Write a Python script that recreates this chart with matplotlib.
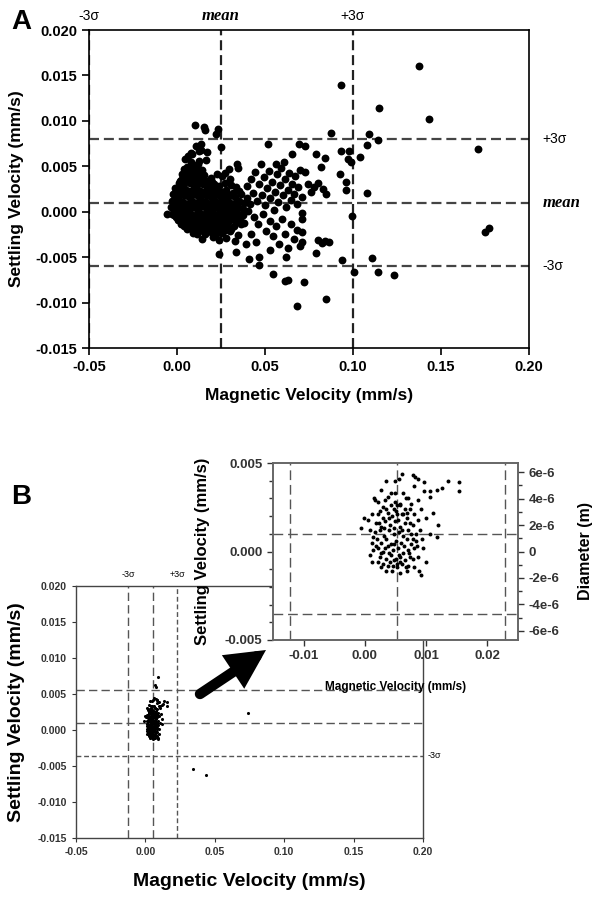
import matplotlib
matplotlib.use('Agg')
import matplotlib.pyplot as plt
from matplotlib.ticker import FormatStrFormatter, MultipleLocator, FixedLocator
from matplotlib.patches import FancyArrowPatch
import numpy as np

plt.rcParams['font.family'] = ['Liberation Sans', 'DejaVu Sans']
plt.rcParams['axes.unicode_minus'] = False

# ---------------- panel A data (magnetic velocity, settling velocity) in mm/s
a_core = [
    (0.0048, 0.0058), (0.0062, 0.0061), (0.0078, 0.0055), (0.0092, 0.0051), (0.0106, 0.0048),
    (0.0121, 0.0053), (0.0056, 0.0049), (0.0141, 0.0046), (0.0072, 0.0046), (0.0040, 0.0047),
    (0.0030, 0.0041), (0.0036, 0.0039), (0.0049, 0.0042), (0.0066, 0.0040), (0.0083, 0.0043),
    (0.0101, 0.0039), (0.0118, 0.0041), (0.0136, 0.0038), (0.0156, 0.0040), (0.0191, 0.0037),
    (0.0226, 0.0042), (0.0256, 0.0039), (0.0302, 0.0036),
    (0.0010, 0.0032), (0.0018, 0.0034), (0.0026, 0.0031), (0.0043, 0.0033), (0.0059, 0.0035),
    (0.0076, 0.0032), (0.0093, 0.0034), (0.0111, 0.0031), (0.0129, 0.0033), (0.0148, 0.0030),
    (0.0166, 0.0034), (0.0186, 0.0029), (0.0211, 0.0031), (0.0241, 0.0028), (0.0271, 0.0032),
    (0.0306, 0.0029), (0.0336, 0.0027),
    (-0.0012, 0.0026), (-0.0004, 0.0024), (0.0019, 0.0027), (0.0046, 0.0025), (0.0071, 0.0023),
    (0.0096, 0.0026), (0.0121, 0.0024), (0.0146, 0.0022), (0.0171, 0.0025), (0.0196, 0.0023),
    (0.0221, 0.0026), (0.0251, 0.0022), (0.0281, 0.0024), (0.0316, 0.0021), (0.0352, 0.0023),
    (-0.0024, 0.0019), (-0.0010, 0.0017), (0.0014, 0.0020), (0.0041, 0.0018), (0.0067, 0.0016),
    (0.0093, 0.0019), (0.0117, 0.0017), (0.0143, 0.0020), (0.0167, 0.0018), (0.0194, 0.0016),
    (0.0219, 0.0019), (0.0245, 0.0017), (0.0273, 0.0015), (0.0301, 0.0018), (0.0331, 0.0016),
    (0.0361, 0.0019), (0.0396, 0.0015),
    (-0.0030, 0.0012), (-0.0016, 0.0010), (0.0009, 0.0013), (0.0034, 0.0011), (0.0061, 0.0009),
    (0.0087, 0.0012), (0.0113, 0.0010), (0.0137, 0.0013), (0.0164, 0.0011), (0.0189, 0.0009),
    (0.0216, 0.0012), (0.0241, 0.0010), (0.0269, 0.0013), (0.0295, 0.0011), (0.0323, 0.0009),
    (0.0351, 0.0012), (0.0381, 0.0010), (0.0412, 0.0008),
    (-0.0033, 0.0005), (-0.0018, 0.0003), (0.0006, 0.0006), (0.0031, 0.0004), (0.0058, 0.0002),
    (0.0084, 0.0005), (0.0111, 0.0003), (0.0135, 0.0006), (0.0163, 0.0004), (0.0187, 0.0002),
    (0.0214, 0.0005), (0.0239, 0.0003), (0.0267, 0.0006), (0.0291, 0.0004), (0.0321, 0.0002),
    (0.0347, 0.0005), (0.0376, 0.0003), (0.0404, 0.0001),
    (-0.0031, -0.0002), (-0.0016, -0.0004), (0.0003, -0.0001), (0.0029, -0.0003), (0.0057, -0.0005),
    (0.0081, -0.0002), (0.0109, -0.0004), (0.0133, -0.0001), (0.0161, -0.0003), (0.0185, -0.0005),
    (0.0213, -0.0002), (0.0237, -0.0004), (0.0265, -0.0001), (0.0289, -0.0003), (0.0319, -0.0005),
    (0.0344, -0.0002), (0.0373, -0.0004),
    (0.0004, -0.0009), (0.0027, -0.0011), (0.0054, -0.0008), (0.0079, -0.0010), (0.0107, -0.0012),
    (0.0131, -0.0009), (0.0157, -0.0011), (0.0184, -0.0008), (0.0209, -0.0010), (0.0235, -0.0012),
    (0.0263, -0.0009), (0.0291, -0.0011), (0.0317, -0.0008), (0.0349, -0.0010), (0.0381, -0.0012),
    (0.0041, -0.0016), (0.0069, -0.0014), (0.0099, -0.0017), (0.0124, -0.0015), (0.0151, -0.0018),
    (0.0177, -0.0016), (0.0204, -0.0014), (0.0233, -0.0017), (0.0259, -0.0015), (0.0289, -0.0018),
    (0.0326, -0.0016), (0.0361, -0.0014),
    (0.0089, -0.0023), (0.0126, -0.0021), (0.0161, -0.0024), (0.0196, -0.0022), (0.0224, -0.0025),
    (0.0258, -0.0023), (0.0301, -0.0021), (0.0344, -0.0026),
    (0.0141, -0.0030), (0.0202, -0.0028), (0.0236, -0.0031), (0.0279, -0.0029), (0.0331, -0.0032),
]

a_core_fill = [
    (0.0005, 0.0022), (0.0030, 0.0022), (0.0058, 0.0020), (0.0083, 0.0022), (0.0108, 0.0021),
    (0.0132, 0.0023), (0.0157, 0.0021), (0.0182, 0.0020), (0.0208, 0.0022), (0.0233, 0.0021),
    (0.0262, 0.0019), (-0.0005, 0.0008), (0.0020, 0.0008), (0.0047, 0.0007), (0.0073, 0.0008),
    (0.0099, 0.0007), (0.0124, 0.0009), (0.0150, 0.0008), (0.0176, 0.0007), (0.0202, 0.0008),
    (0.0228, 0.0007), (0.0255, 0.0009), (0.0282, 0.0008), (0.0309, 0.0007), (0.0336, 0.0008),
    (-0.0008, -0.0006), (0.0016, -0.0006), (0.0043, -0.0007), (0.0069, -0.0006), (0.0095, -0.0008),
    (0.0121, -0.0006), (0.0147, -0.0007), (0.0173, -0.0006), (0.0199, -0.0007), (0.0225, -0.0008),
    (0.0251, -0.0006), (0.0277, -0.0007), (0.0305, -0.0006), (0.0333, -0.0007), (0.0360, -0.0008),
    (0.0055, -0.0019), (0.0085, -0.0019), (0.0113, -0.0020), (0.0139, -0.0019), (0.0165, -0.0020),
    (0.0190, -0.0019), (0.0218, -0.0020), (0.0246, -0.0019), (0.0274, -0.0020), (0.0308, -0.0019),
    (0.0020, 0.0035), (0.0055, 0.0038), (0.0085, 0.0037), (0.0115, 0.0036), (0.0145, 0.0035),
    (0.0175, 0.0032), (0.0200, 0.0033), (0.0060, 0.0044), (0.0085, 0.0047), (0.0100, 0.0044),
    (0.0130, 0.0044),
]

a_spread = [
    (0.0102, 0.0095), (0.0153, 0.0093), (0.0157, 0.0090), (0.0220, 0.0085), (0.0233, 0.0091),
    (0.0250, 0.0071), (0.0106, 0.0072), (0.0125, 0.0067), (0.0136, 0.0068), (0.0125, 0.0056),
    (0.0086, 0.0064), (0.0135, 0.0075), (0.0172, 0.0066), (0.0167, 0.0057), (0.0078, 0.0065),
    (0.0340, 0.0053), (0.0349, 0.0048), (0.0298, 0.0047), (0.0270, 0.0043),
    (0.0515, 0.0075), (0.0560, 0.0052), (0.0608, 0.0055), (0.0655, 0.0064), (0.0693, 0.0074),
    (0.0729, 0.0072), (0.0788, 0.0063),
    (0.0395, 0.0028), (0.0420, 0.0036), (0.0432, 0.0021), (0.0445, 0.0044), (0.0452, 0.0012),
    (0.0468, 0.0030), (0.0475, 0.0052), (0.0483, 0.0018), (0.0495, 0.0038), (0.0502, 0.0007),
    (0.0510, 0.0026), (0.0522, 0.0045), (0.0530, 0.0015), (0.0541, 0.0033), (0.0550, 0.0002),
    (0.0558, 0.0022), (0.0566, 0.0041), (0.0575, 0.0011), (0.0583, 0.0029), (0.0592, 0.0048),
    (0.0600, 0.0018), (0.0611, 0.0036), (0.0619, 0.0005), (0.0628, 0.0024), (0.0636, 0.0043),
    (0.0645, 0.0013), (0.0653, 0.0031), (0.0662, 0.0020), (0.0671, 0.0039), (0.0680, 0.0008),
    (0.0690, 0.0027), (0.0700, 0.0046), (0.0712, 0.0016),
    (0.0727, 0.0044), (0.0745, 0.0030), (0.0780, 0.0027), (0.0800, 0.0032), (0.0830, 0.0025),
    (0.0846, 0.0020), (0.0760, 0.0022), (0.0840, 0.0059), (0.0820, 0.0049),
    (0.0877, 0.0087), (0.0934, 0.0139), (0.0924, 0.0042), (0.0960, 0.0033), (0.0960, 0.0024),
    (0.0930, 0.0067), (0.0980, 0.0067), (0.1040, 0.0060), (0.0970, 0.0058), (0.0990, 0.0055),
    (0.1080, 0.0021), (0.1090, 0.0085), (0.1142, 0.0079), (0.1078, 0.0073), (0.1148, 0.0114),
    # below the mean line
    (-0.0059, -0.0003), (0.0021, -0.0014), (0.0114, -0.0024),
    (0.0436, -0.0006), (0.0461, -0.0014), (0.0488, -0.0003), (0.0505, -0.0021), (0.0527, -0.0010),
    (0.0548, -0.0027), (0.0560, -0.0016), (0.0580, -0.0035), (0.0596, -0.0008), (0.0612, -0.0024),
    (0.0633, -0.0040), (0.0648, -0.0013), (0.0665, -0.0030), (0.0680, -0.0020), (0.0418, -0.0025),
    (0.0448, -0.0033), (0.0530, -0.0042), (0.0620, -0.0050), (0.0700, -0.0038),
    (0.0710, -0.0001), (0.0711, -0.0008), (0.0712, -0.0022), (0.0713, -0.0033),
    (0.0801, -0.0031), (0.0822, -0.0034), (0.0843, -0.0032), (0.0864, -0.0033),
    (0.0239, -0.0047), (0.0334, -0.0044), (0.0390, -0.0036), (0.0410, -0.0052), (0.0466, -0.0050),
    (0.0466, -0.0059), (0.0547, -0.0069), (0.0614, -0.0076), (0.0630, -0.0075), (0.0722, -0.0077),
    (0.0684, -0.0104), (0.0849, -0.0096), (0.0792, -0.0045), (0.0936, -0.0053), (0.1106, -0.0051),
    (0.1003, -0.0066), (0.1142, -0.0066), (0.1233, -0.0070), (0.0996, -0.0005),
]

a_outliers = [(0.1375, 0.0160), (0.1432, 0.0102), (0.1710, 0.0069), (0.1750, -0.0022), (0.1773, -0.0018)]

a_mean = (0.025, 0.001)
a_minus3 = (-0.05, -0.006)
a_plus3 = (0.10, 0.008)

# ---------------- panel B data (same variables), shared by main plot and inset
b_cluster = [
    (0.0060, 0.0044), (0.0078, 0.0043), (0.0082, 0.0042), (0.0086, 0.0041), (0.0035, 0.0040),
    (0.0049, 0.0040), (0.0056, 0.0041), (0.0097, 0.0039), (0.0135, 0.0040), (0.0154, 0.0039),
    (0.0117, 0.0035), (0.0096, 0.0034), (0.0107, 0.0034), (0.0106, 0.0031), (0.0154, 0.0034),
    (0.0043, 0.0033), (0.0049, 0.0033), (0.0015, 0.0030), (0.0016, 0.0029), (0.0022, 0.0028),
    (0.0033, 0.0029), (0.0067, 0.0030), (0.0071, 0.0030), (0.0086, 0.0029), (0.0049, 0.0028),
    (0.0057, 0.0026), (0.0050, 0.0023), (0.0066, 0.0024), (0.0073, 0.0024), (0.0060, 0.0021),
    (0.0073, 0.0016), (0.0087, 0.0018), (-0.0001, 0.0019), (0.0005, 0.0018), (-0.0007, 0.0013),
    (0.0107, 0.0010), (0.0117, 0.0008), (0.0011, 0.0005), (0.0014, 0.0001), (0.0009, -0.0002),
    (0.0011, -0.0006), (0.0027, -0.0009), (0.0041, -0.0006), (0.0046, -0.0008), (0.0052, -0.0007),
    (0.0057, -0.0006), (0.0044, -0.0011), (0.0052, -0.0009), (0.0067, -0.0009), (0.0089, -0.0011),
    (0.0092, -0.0013), (0.0078, -0.0004), (0.0085, 0.0003), (0.0093, 0.0007),
    (0.0021, 0.0021), (0.0029, 0.0019), (0.0037, 0.0022), (0.0045, 0.0020), (0.0054, 0.0018),
    (0.0063, 0.0021), (0.0018, 0.0016), (0.0026, 0.0014), (0.0033, 0.0017), (0.0041, 0.0015),
    (0.0049, 0.0017), (0.0057, 0.0014), (0.0066, 0.0016), (0.0079, 0.0015), (0.0016, 0.0011),
    (0.0024, 0.0012), (0.0031, 0.0009), (0.0039, 0.0012), (0.0047, 0.0010), (0.0055, 0.0011),
    (0.0062, 0.0009), (0.0071, 0.0012), (0.0084, 0.0010), (0.0019, 0.0007), (0.0027, 0.0005),
    (0.0035, 0.0007), (0.0043, 0.0004), (0.0051, 0.0006), (0.0059, 0.0005), (0.0068, 0.0007),
    (0.0076, 0.0004), (0.0022, 0.0002), (0.0030, 0.0000), (0.0038, 0.0003), (0.0046, 0.0001),
    (0.0054, 0.0002), (0.0062, -0.0001), (0.0070, 0.0001), (0.0081, 0.0002), (0.0025, -0.0003),
    (0.0034, -0.0004), (0.0042, -0.0002), (0.0050, -0.0004), (0.0058, -0.0003), (0.0066, -0.0005),
    (0.0074, -0.0003), (0.0029, 0.0025), (0.0042, 0.0026), (0.0058, 0.0027),
    (0.0023, 0.0016), (0.0031, 0.0013), (0.0039, 0.0019), (0.0047, 0.0013), (0.0053, 0.0021),
    (0.0060, 0.0012), (0.0069, 0.0019), (0.0076, 0.0010), (0.0083, 0.0006), (0.0090, 0.0012),
    (0.0018, 0.0003), (0.0026, -0.0001), (0.0033, 0.0002), (0.0040, -0.0001), (0.0048, 0.0004),
    (0.0056, -0.0002), (0.0064, 0.0003), (0.0072, -0.0001), (0.0079, 0.0007), (0.0087, -0.0003),
    (0.0021, -0.0006), (0.0030, -0.0007), (0.0038, -0.0008), (0.0048, -0.0005), (0.0061, -0.0007),
    (0.0071, -0.0008), (0.0080, -0.0009), (0.0035, -0.0011), (0.0058, -0.0012), (0.0069, -0.0011),
    (0.0025, 0.0023), (0.0034, 0.0024), (0.0047, 0.0024), (0.0053, 0.0026), (0.0068, 0.0022),
    (0.0080, 0.0021), (0.0091, 0.0024), (0.0100, 0.0019), (0.0038, 0.0031), (0.0062, 0.0033),
    (0.0012, 0.0021), (0.0008, 0.0012), (0.0013, 0.0008), (0.0095, 0.0002), (0.0100, -0.0006),
    (0.0027, 0.0035), (0.0080, 0.0037), (0.0112, 0.0022), (0.0120, 0.0015), (0.0075, 0.0027),
    # above the inset window
    (0.0089, 0.0073), (0.0068, 0.0062), (0.0078, 0.0060), (0.0126, 0.0036),
]
b_outliers = [(0.0740, 0.0024), (0.0345, -0.0054), (0.0435, -0.0063)]

b_mean = (0.0053, 0.0010)
b_minus3 = (-0.0122, -0.00355)
b_plus3 = (0.0228, 0.00555)

diameter_ticks = [-6e-6, -4e-6, -2e-6, 0, 2e-6, 4e-6, 6e-6]
diameter_labels = ['-6e-6', '-4e-6', '-2e-6', '0', '2e-6', '4e-6', '6e-6']

ax_a, ay_a = np.array(a_core + a_core_fill + a_spread + a_outliers).T
bx, by = np.array(b_cluster + b_outliers).T

fig = plt.figure(figsize=(6.01, 9.0), dpi=100)


def px_box(l, t, r, b):
    return [l / 601, 1 - b / 900, (r - l) / 601, (b - t) / 900]


# ======================= panel A
axA = fig.add_axes(px_box(89, 30, 529, 348))
axA.scatter(ax_a, ay_a, s=32, c='black', lw=0, zorder=3)
for x in (a_minus3[0], a_mean[0], a_plus3[0]):
    axA.axvline(x, color='#222222', lw=1.6, dashes=(4.5, 2.2), zorder=2)
for y in (a_minus3[1], a_mean[1], a_plus3[1]):
    axA.axhline(y, color='#444444', lw=1.6, dashes=(4.5, 2.2), zorder=2)
axA.set_xlim(-0.05, 0.20)
axA.set_ylim(-0.015, 0.020)
axA.xaxis.set_major_locator(MultipleLocator(0.05))
axA.yaxis.set_major_locator(MultipleLocator(0.005))
axA.xaxis.set_major_formatter(FormatStrFormatter('%.2f'))
axA.yaxis.set_major_formatter(FormatStrFormatter('%.3f'))
axA.tick_params(direction='out', length=5, width=1.2, labelsize=10.5)
for lab in axA.get_xticklabels() + axA.get_yticklabels():
    lab.set_fontweight('bold')
for sp in axA.spines.values():
    sp.set_linewidth(1.2)
axA.set_xlabel('Magnetic Velocity (mm/s)', fontsize=12.5, fontweight='bold')
axA.set_ylabel('Settling Velocity (mm/s)', fontsize=12.5, fontweight='bold')
axA.xaxis.set_label_coords(0.5, -0.125)
axA.yaxis.set_label_coords(-0.148, 0.5)

tA = axA.get_xaxis_transform()
axA.text(a_minus3[0], 1.045, '-3σ', transform=tA, ha='center', va='center', fontsize=10)
axA.text(a_mean[0], 1.045, 'mean', transform=tA, ha='center', va='center', fontsize=12,
         family='Liberation Serif', style='italic', fontweight='bold')
axA.text(a_plus3[0], 1.045, '+3σ', transform=tA, ha='center', va='center', fontsize=10)
rA = axA.get_yaxis_transform()
axA.text(1.03, a_plus3[1], '+3σ', transform=rA, ha='left', va='center', fontsize=10)
axA.text(1.03, a_mean[1], 'mean', transform=rA, ha='left', va='center', fontsize=12,
         family='Liberation Serif', style='italic', fontweight='bold')
axA.text(1.03, a_minus3[1], '-3σ', transform=rA, ha='left', va='center', fontsize=10)
fig.text(21 / 601, 1 - 22 / 900, 'A', fontsize=20, fontweight='bold', ha='center', va='center')

# ======================= panel B main
axB = fig.add_axes(px_box(76, 586, 423, 838))
axB.scatter(bx, by, s=5, c='black', lw=0, zorder=3)
axB.axvline(b_minus3[0], color='#555555', lw=1.0, dashes=(6, 3))
axB.axvline(b_mean[0], color='#555555', lw=1.0, dashes=(6, 3))
axB.axvline(b_plus3[0], color='#555555', lw=1.0, dashes=(3.5, 2))
axB.axhline(b_plus3[1], color='#555555', lw=1.0, dashes=(6, 3))
axB.axhline(b_mean[1], color='#555555', lw=1.0, dashes=(6, 3))
axB.axhline(b_minus3[1], color='#555555', lw=1.0, dashes=(3.5, 2))
axB.set_xlim(-0.05, 0.20)
axB.set_ylim(-0.015, 0.020)
axB.xaxis.set_major_locator(MultipleLocator(0.05))
axB.yaxis.set_major_locator(MultipleLocator(0.005))
axB.xaxis.set_major_formatter(FormatStrFormatter('%.2f'))
axB.yaxis.set_major_formatter(FormatStrFormatter('%.3f'))
axB.tick_params(direction='out', length=3, width=0.8, labelsize=7.5, colors='#333333')
for lab in axB.get_xticklabels() + axB.get_yticklabels():
    lab.set_fontweight('bold')
for sp in axB.spines.values():
    sp.set_color('#444444')
    sp.set_linewidth(1.0)
axB.set_xlabel('Magnetic Velocity (mm/s)', fontsize=14, fontweight='bold')
axB.set_ylabel('Settling Velocity (mm/s)', fontsize=14, fontweight='bold')
axB.xaxis.set_label_coords(0.5, -0.139)
axB.yaxis.set_label_coords(-0.147, 0.5)
tB = axB.get_xaxis_transform()
axB.text(b_minus3[0], 1.044, '-3σ', transform=tB, ha='center', va='center', fontsize=6.5)
axB.text(b_plus3[0], 1.044, '+3σ', transform=tB, ha='center', va='center', fontsize=6.5)
axB.text(1.014, b_minus3[1], '-3σ', transform=axB.get_yaxis_transform(),
         ha='left', va='center', fontsize=6.5)
fig.text(21 / 601, 1 - 497 / 900, 'B', fontsize=20, fontweight='bold', ha='center', va='center')

# ======================= panel B inset
axI = fig.add_axes(px_box(273, 463, 518, 640))
axI.set_facecolor('white')
axI.scatter(bx, by, s=8, c='black', lw=0, zorder=3)
for x in (b_minus3[0], b_mean[0], b_plus3[0]):
    axI.axvline(x, color='#555555', lw=1.0, dashes=(7, 3.5))
for y in (b_minus3[1], b_mean[1], b_plus3[1]):
    axI.axhline(y, color='#555555', lw=1.0, dashes=(7, 3.5))
axI.set_xlim(-0.015, 0.025)
axI.set_ylim(-0.005, 0.005)
axI.xaxis.set_major_locator(FixedLocator([-0.01, 0.0, 0.01, 0.02]))
axI.xaxis.set_major_formatter(FormatStrFormatter('%.2f'))
axI.yaxis.set_major_locator(MultipleLocator(0.005))
axI.yaxis.set_minor_locator(MultipleLocator(0.001))
axI.yaxis.set_major_formatter(FormatStrFormatter('%.3f'))
axI.tick_params(which='both', direction='out', width=1.0, labelsize=9.5, colors='#333333')
axI.tick_params(which='major', length=4)
axI.tick_params(which='minor', length=3)
for lab in axI.get_xticklabels() + axI.get_yticklabels():
    lab.set_fontweight('bold')
for sp in axI.spines.values():
    sp.set_color('#666666')
    sp.set_linewidth(1.2)
axI.set_xlabel('Magnetic Velocity (mm/s)', fontsize=8.5, fontweight='bold')
axI.set_ylabel('Settling Velocity (mm/s)', fontsize=12, fontweight='bold')
axI.xaxis.set_label_coords(0.502, -0.232)
axI.yaxis.set_label_coords(-0.257, 0.5)

axD = axI.twinx()
axD.set_ylim(-6.7e-6, 6.7e-6)
axD.yaxis.set_major_locator(FixedLocator(diameter_ticks))
axD.set_yticklabels(diameter_labels)
axD.yaxis.set_minor_locator(MultipleLocator(1e-6))
axD.tick_params(which='both', direction='out', width=1.0, labelsize=9.5, colors='#333333')
axD.tick_params(which='major', length=4)
axD.tick_params(which='minor', length=3)
for lab in axD.get_yticklabels():
    lab.set_fontweight('bold')
for sp in axD.spines.values():
    sp.set_color('#666666')
    sp.set_linewidth(1.2)
axD.set_ylabel('Diameter (m)', fontsize=11.5, fontweight='bold')
axD.yaxis.set_label_coords(1.245, 0.5)

# arrow pointing from the cluster to the inset
arrow = FancyArrowPatch((200 / 601, 1 - 694 / 900), (266 / 601, 1 - 650 / 900),
                        transform=fig.transFigure, arrowstyle='-|>,head_length=0.55,head_width=0.28',
                        mutation_scale=30, lw=7.5, color='black', capstyle='round',
                        joinstyle='miter', shrinkA=0, shrinkB=0, zorder=10)
fig.add_artist(arrow)

fig.savefig('out.png', dpi=100)
